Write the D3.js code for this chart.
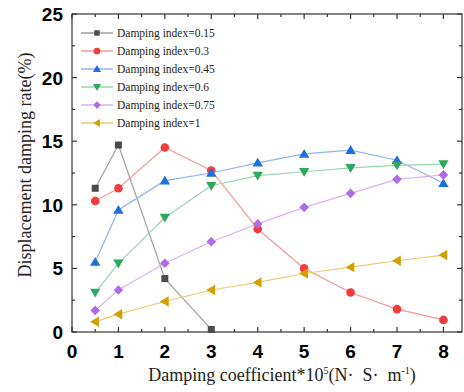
<!DOCTYPE html>
<html>
<head>
<meta charset="utf-8">
<script src="https://cdn.jsdelivr.net/npm/d3@7"></script>
<style>
  body { margin: 0; background: #fff; }
  svg { display: block; }
</style>
</head>
<body>
<svg id="chart" width="464" height="392"></svg>
<script>
// damping coefficient (x) and the damping rate of each series
const xs = [0.5, 1, 2, 3, 4, 5, 6, 7, 8]
const labels = ["Damping index=0.15", "Damping index=0.3", "Damping index=0.45",
  "Damping index=0.6", "Damping index=0.75", "Damping index=1"]
const s015 = [11.3, 14.7, 4.2, 0.2]
const s03 = [10.3, 11.3, 14.5, 12.7, 8.1, 5.0, 3.1, 1.8, 0.95]
const s045 = [5.5, 9.6, 11.9, 12.5, 13.3, 14.0, 14.3, 13.5, 11.7]
const s06 = [3.1, 5.4, 9.0, 11.5, 12.3, 12.6, 12.9, 13.1, 13.2]
const s075 = [1.7, 3.3, 5.4, 7.1, 8.5, 9.8, 10.9, 12.0, 12.35]
const s1 = [0.8, 1.4, 2.4, 3.3, 3.9, 4.6, 5.1, 5.6, 6.05]
const xTicks = [0, 1, 2, 3, 4, 5, 6, 7, 8]
const yTicks = [0, 5, 10, 15, 20, 25]

const series = [s015, s03, s045, s06, s075, s1]
const markColor = ["#4a4a4a", "#f03c3c", "#1e6fe0", "#2ea85c", "#b06ae6", "#d4a000"]
const lineColor = ["#a0a0a0", "#f79a9a", "#8fb5ee", "#98d6ad", "#d6b3f3", "#e8cc70"]
const shapes = ["square", "circle", "up", "down", "diamond", "left"]

const svg = d3.select("#chart")
const margin = { top: 14, right: 2, bottom: 60, left: 72 }
const width = 464 - margin.left - margin.right
const height = 392 - margin.top - margin.bottom
const g = svg.append("g").attr("transform", `translate(${margin.left},${margin.top})`)

const x = d3.scaleLinear().domain([0, 8.4]).range([0, width])
const y = d3.scaleLinear().domain([0, 25]).range([height, 0])

// frame
g.append("rect").attr("width", width).attr("height", height)
  .attr("fill", "none").attr("stroke", "#333").attr("stroke-width", 1.2)

// inward ticks on all four sides
const ticks = g.append("g").attr("stroke", "#333").attr("stroke-width", 1.2)
function tickLines(vals, len, orient) {
  vals.forEach(v => {
    const l = ticks.append("line")
    if (orient === "b") l.attr("x1", x(v)).attr("x2", x(v)).attr("y1", height).attr("y2", height - len)
    else if (orient === "t") l.attr("x1", x(v)).attr("x2", x(v)).attr("y1", 0).attr("y2", len)
    else if (orient === "l") l.attr("y1", y(v)).attr("y2", y(v)).attr("x1", 0).attr("x2", len)
    else l.attr("y1", y(v)).attr("y2", y(v)).attr("x1", width).attr("x2", width - len)
  })
}
const xMinor = d3.range(0.5, 8.4, 1)
const yMinor = d3.range(2.5, 25, 5)
tickLines(xTicks, 5, "b"); tickLines(xMinor, 3, "b")
tickLines(xTicks, 5, "t"); tickLines(xMinor, 3, "t")
tickLines(yTicks, 5, "l"); tickLines(yMinor, 3, "l")
tickLines(yTicks, 5, "r"); tickLines(yMinor, 3, "r")

// tick labels
g.selectAll(".xl").data(xTicks).enter().append("text")
  .attr("x", d => x(d)).attr("y", height + 26)
  .attr("text-anchor", "middle")
  .style("font", "bold 19px 'Liberation Sans', Arial, sans-serif")
  .text(d => d)
g.selectAll(".yl").data(yTicks).enter().append("text")
  .attr("x", -9).attr("y", d => y(d) + 7)
  .attr("text-anchor", "end")
  .style("font", "bold 19px 'Liberation Sans', Arial, sans-serif")
  .text(d => d)

// axis titles
const serif = "'Liberation Serif', 'Times New Roman', serif"
const xt = svg.append("text").attr("x", 282).attr("y", 381).attr("text-anchor", "middle")
  .style("font-family", serif).style("font-size", "18px").attr("fill", "#222")
xt.append("tspan").text("Damping coefficient*10")
xt.append("tspan").attr("dy", -7).style("font-size", "10px").text("5")
xt.append("tspan").attr("dy", 7).text("(N\u00b7\u00a0 S\u00b7\u00a0 m")
xt.append("tspan").attr("dy", -7).style("font-size", "10px").text("-1")
xt.append("tspan").attr("dy", 7).text(")")

svg.append("text").attr("transform", "translate(31,165) rotate(-90)")
  .attr("text-anchor", "middle")
  .style("font-family", serif).style("font-size", "18px").attr("fill", "#222")
  .text("Displacement damping rate(%)")

function marker(sel, i, k) {
  const s = shapes[i]
  let d
  if (s === "square") d = `M${-3.5 * k},${-3.5 * k}h${7 * k}v${7 * k}h${-7 * k}Z`
  else if (s === "circle") d = d3.arc()({ innerRadius: 0, outerRadius: 4.3 * k, startAngle: 0, endAngle: 2 * Math.PI })
  else if (s === "diamond") d = `M0,${-4.8 * k}L${4.8 * k},0L0,${4.8 * k}L${-4.8 * k},0Z`
  else d = `M0,${-5 * k}L${5.2 * k},${3.8 * k}L${-5.2 * k},${3.8 * k}Z`
  const rot = s === "down" ? "rotate(180)" : s === "left" ? "rotate(-90)" : null
  sel.append("path").attr("d", d).attr("transform", rot).attr("fill", markColor[i])
}

const line = d3.line().x(d => x(d[0])).y(d => y(d[1]))
series.forEach((vals, i) => {
  const pts = vals.map((v, k) => [xs[k], v])
  g.append("path").datum(pts).attr("d", line)
    .attr("fill", "none").attr("stroke", lineColor[i]).attr("stroke-width", 1.2)
  pts.forEach(p => {
    const m = g.append("g").attr("transform", `translate(${x(p[0])},${y(p[1])})`)
    marker(m, i, 1)
  })
})

// legend
const lg = g.append("g").attr("transform", "translate(9,19)")
labels.forEach((lab, i) => {
  const row = lg.append("g").attr("transform", `translate(0,${i * 18})`)
  row.append("line").attr("x1", 0).attr("x2", 32).attr("y1", 0).attr("y2", 0)
    .attr("stroke", lineColor[i]).attr("stroke-width", 1.5)
  const m = row.append("g").attr("transform", "translate(16,0)")
  marker(m, i, 0.78)
  row.append("text").attr("x", 36).attr("y", 4)
    .style("font-family", serif).style("font-size", "11.5px").attr("fill", "#222")
    .text(lab)
})
</script>
</body>
</html>
